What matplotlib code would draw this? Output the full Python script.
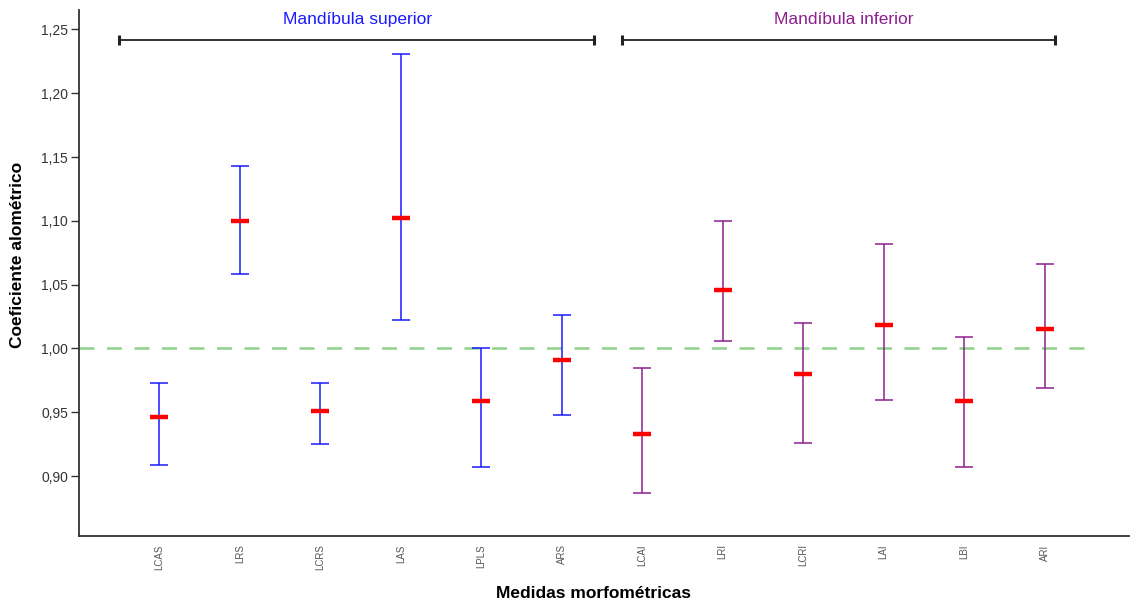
import numpy as np
import matplotlib.pyplot as plt
from matplotlib.ticker import FuncFormatter

plt.rcParams['font.family'] = ['Liberation Sans', 'DejaVu Sans']

# values
labels = ['LCAS', 'LRS', 'LCRS', 'LAS', 'LPLS', 'ARS',
          'LCAI', 'LRI', 'LCRI', 'LAI', 'LBI', 'ARI']
means = [0.946, 1.0995, 0.951, 1.102, 0.959, 0.9906,
         0.9326, 1.0455, 0.980, 1.018, 0.959, 1.015]
lower = [0.909, 1.058, 0.9248, 1.022, 0.907, 0.9475,
         0.887, 1.0055, 0.9263, 0.960, 0.9075, 0.9694]
upper = [0.973, 1.1426, 0.9726, 1.231, 1.000, 1.026,
         0.9843, 1.0995, 1.0196, 1.0815, 1.0086, 1.0658]
groups = ['sup'] * 6 + ['inf'] * 6

colors = {'sup': '#1a1aff', 'inf': '#8e1f8e'}

x = np.arange(1, len(labels) + 1)
means = np.array(means)
lower = np.array(lower)
upper = np.array(upper)

fig = plt.figure(figsize=(11.3, 6.03), dpi=100)
ax = fig.add_axes([0.0699, 0.111, 0.93, 0.872])

for g in ['sup', 'inf']:
    m = np.array([gg == g for gg in groups])
    yerr = np.vstack([means[m] - lower[m], upper[m] - means[m]])
    ax.errorbar(x[m], means[m], yerr=yerr, fmt='none', ecolor=colors[g],
                elinewidth=1.1, capsize=6.5, capthick=1.1, zorder=3)

# mean markers
ax.scatter(x, means, marker='_', s=175, linewidths=3.2, color='#ff0000', zorder=4)

# reference line at 1
ax.plot([0, 12.5], [1.0, 1.0], color='#8fd18a', lw=1.8, dashes=(6, 5), zorder=1)

# group brackets
br_y = 1.242
ax.errorbar([(0.5 + 6.4) / 2], [br_y], xerr=[[(6.4 - 0.5) / 2]], fmt='none',
            ecolor='#222222', elinewidth=1.3, capsize=3.5, capthick=2.2)
ax.errorbar([(6.75 + 12.13) / 2], [br_y], xerr=[[(12.13 - 6.75) / 2]], fmt='none',
            ecolor='#222222', elinewidth=1.3, capsize=3.5, capthick=2.2)
ax.text(3.46, 1.2575, 'Mandíbula superior', color='#1a1aff', fontsize=12.5,
        ha='center', va='center')
ax.text(9.5, 1.2575, 'Mandíbula inferior', color='#8e1f8e', fontsize=12.5,
        ha='center', va='center')

ax.set_xlim(0, 13.06)
ax.set_ylim(0.853, 1.265)
ax.set_yticks([0.90, 0.95, 1.00, 1.05, 1.10, 1.15, 1.20, 1.25])
ax.yaxis.set_major_formatter(FuncFormatter(lambda v, p: f'{v:.2f}'.replace('.', ',')))
ax.set_xticks(x)
ax.set_xticklabels(labels, rotation=90, fontsize=7, color='#555555')
ax.tick_params(axis='x', length=0, pad=6)
ax.tick_params(axis='y', labelsize=10, colors='#333333', length=6, width=1, pad=2)

for s in ['top', 'right']:
    ax.spines[s].set_visible(False)
for s in ['left', 'bottom']:
    ax.spines[s].set_color('#333333')
    ax.spines[s].set_linewidth(1.3)

ax.set_ylabel('Coeficiente alométrico', fontsize=12.5, fontweight='bold')
ax.yaxis.set_label_coords(-0.051, 0.535)
ax.set_xlabel('Medidas morfométricas', fontsize=12.5, fontweight='bold')
ax.xaxis.set_label_coords(0.49, -0.095)

fig.savefig('out.png', dpi=100)
